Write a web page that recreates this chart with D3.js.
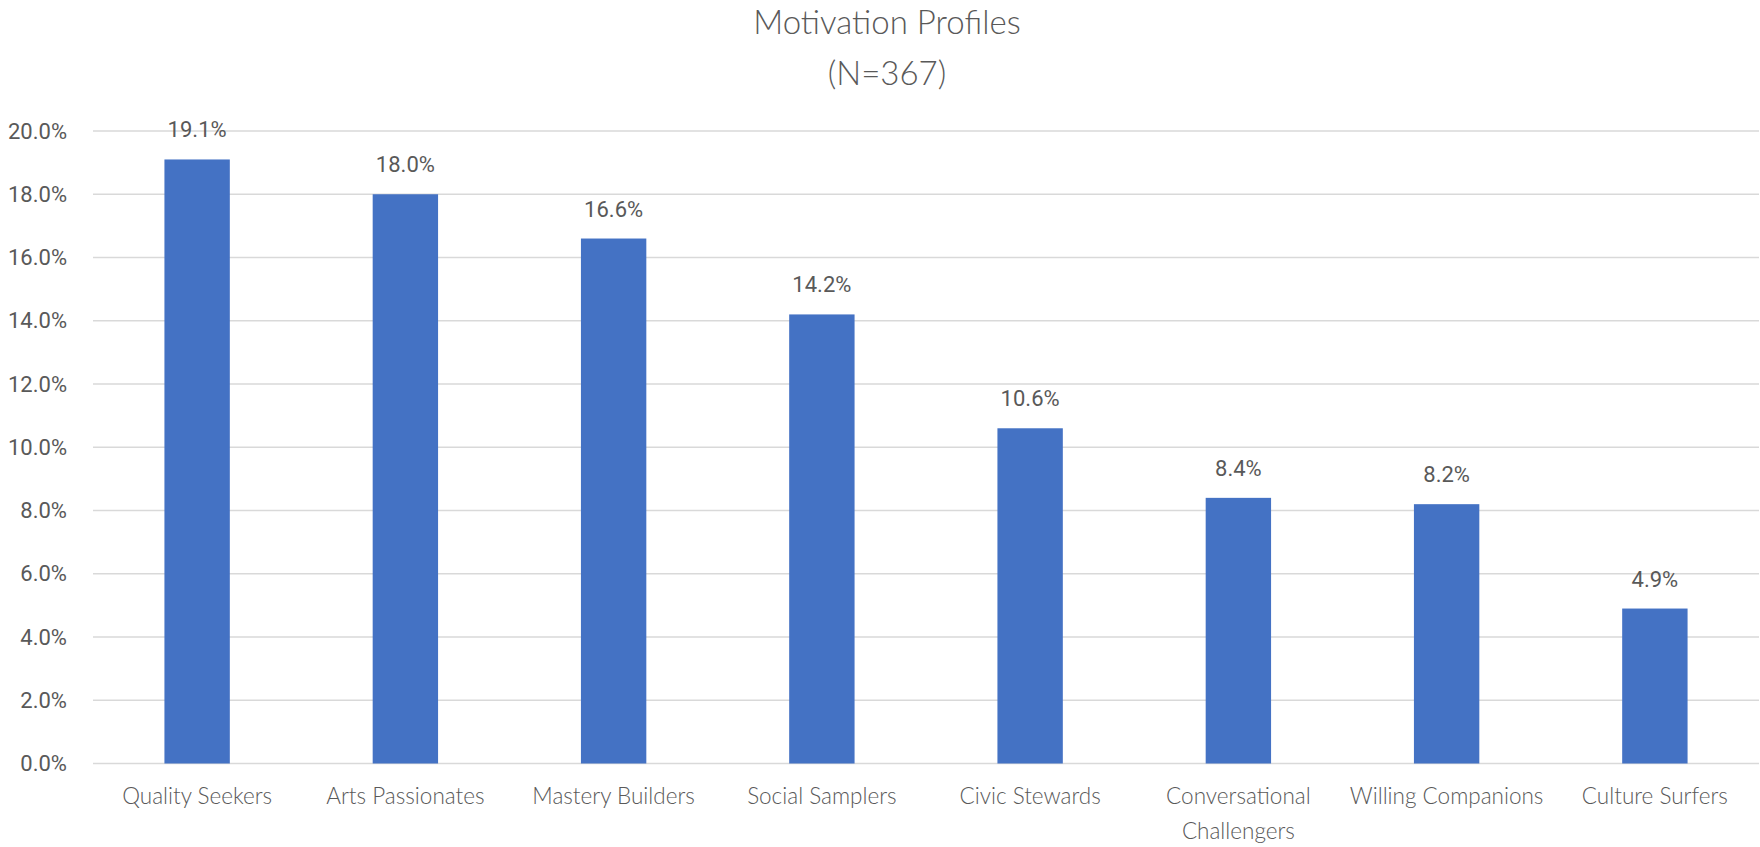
<!DOCTYPE html>
<html lang="en">
<head>
  <meta charset="UTF-8" />
  <title>Motivation Profiles</title>
  <script src="https://d3js.org/d3.v7.min.js"></script>
  <style>
    body {
      margin: 0;
      padding: 0;
      background: white;
    }
    svg {
      display: block;
    }
    .tick-label, .data-label {
      font-family: Roboto, "Noto Sans", sans-serif;
      font-size: 22px;
      fill: #595959;
    }
    .cat-label {
      font-family: Lato, sans-serif;
      font-weight: 300;
      font-size: 22.5px;
      fill: #595959;
    }
    .title {
      font-family: Lato, sans-serif;
      font-weight: 300;
      font-size: 33px;
      fill: #595959;
    }
  </style>
</head>
<body>
  <svg id="chart"></svg>

  <script>
    // values
    const categories = [
      "Quality Seekers", "Arts Passionates", "Mastery Builders", "Social Samplers",
      "Civic Stewards", "Conversational Challengers", "Willing Companions", "Culture Surfers"
    ];
    const shares = [19.1, 18.0, 16.6, 14.2, 10.6, 8.4, 8.2, 4.9];
    const yTicks = [0, 2, 4, 6, 8, 10, 12, 14, 16, 18, 20];
    const titleLines = ["Motivation Profiles", "(N=367)"];

    const W = 1760, H = 847;
    const margin = { top: 131, right: 1, bottom: 83.5, left: 93 };
    const width = W - margin.left - margin.right;
    const height = H - margin.top - margin.bottom;

    const svg = d3.select("#chart").attr("width", W).attr("height", H);
    const g = svg.append("g").attr("transform", `translate(${margin.left},${margin.top})`);

    const x = d3.scaleBand()
      .domain(categories)
      .range([0, width])
      .paddingInner(0.686)
      .paddingOuter(0.343);

    const y = d3.scaleLinear()
      .domain([0, 20])
      .range([height, 0]);

    // gridlines
    g.append("g")
      .selectAll("line")
      .data(yTicks)
      .join("line")
      .attr("x1", 0)
      .attr("x2", width)
      .attr("y1", d => y(d))
      .attr("y2", d => y(d))
      .attr("stroke", "#d9d9d9")
      .attr("stroke-width", 1.5);

    // y axis labels
    const yAxis = g.append("g")
      .call(d3.axisLeft(y).tickValues(yTicks).tickSize(0).tickPadding(26).tickFormat(d => d.toFixed(1) + "%"));
    yAxis.select(".domain").remove();
    yAxis.selectAll("text").attr("class", "tick-label").attr("font-family", null).attr("font-size", null);

    // bars
    g.selectAll(".bar")
      .data(shares)
      .join("rect")
      .attr("class", "bar")
      .attr("x", (d, i) => x(categories[i]))
      .attr("width", x.bandwidth())
      .attr("y", d => y(d))
      .attr("height", d => height - y(d))
      .attr("fill", "#4472c4");

    // data labels
    g.selectAll(".data-label")
      .data(shares)
      .join("text")
      .attr("class", "data-label")
      .attr("x", (d, i) => x(categories[i]) + x.bandwidth() / 2)
      .attr("y", d => y(d) - 22)
      .attr("text-anchor", "middle")
      .text(d => d.toFixed(1) + "%");

    // category labels, wrapped when wider than the band step
    const step = x.step();
    const catG = g.append("g").attr("transform", `translate(0,${height})`);
    categories.forEach((c, i) => {
      const t = catG.append("text")
        .attr("class", "cat-label")
        .attr("text-anchor", "middle")
        .attr("x", x(c) + x.bandwidth() / 2)
        .attr("y", 40);
      t.text(c);
      if (t.node().getComputedTextLength() > step - 10) {
        t.text(null);
        c.split(" ").forEach((w, k) => {
          t.append("tspan")
            .attr("x", x(c) + x.bandwidth() / 2)
            .attr("dy", k === 0 ? 0 : 35)
            .text(w);
        });
      }
    });

    // title
    svg.selectAll(".title")
      .data(titleLines)
      .join("text")
      .attr("class", "title")
      .attr("x", 887)
      .attr("y", (d, i) => 34 + i * 51)
      .attr("text-anchor", "middle")
      .text(d => d);
  </script>
</body>
</html>
